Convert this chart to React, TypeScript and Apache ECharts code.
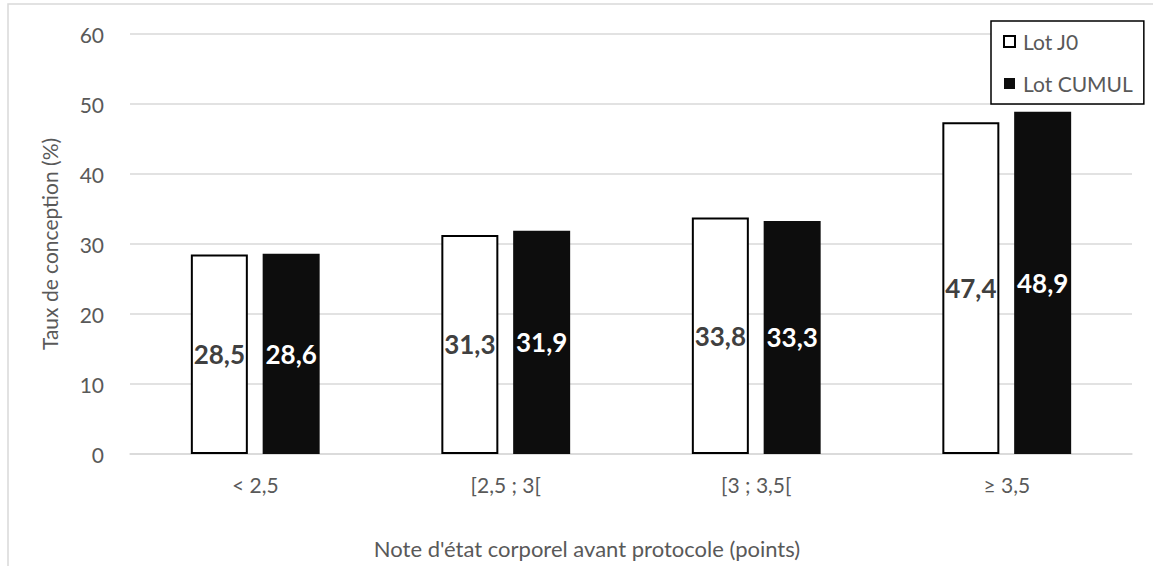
import React, { useEffect, useRef } from "react";
import * as echarts from "echarts";

// Note d'état corporel classes and conception rates (%)
const categories = ["< 2,5", "[2,5 ; 3[", "[3 ; 3,5[", "≥ 3,5"];
const lotJ0 = [28.5, 31.3, 33.8, 47.4];
const lotCumul = [28.6, 31.9, 33.3, 48.9];
const yTicks = { min: 0, max: 60, interval: 10 };

const FONT = "Lato";
const GREY = "#595959";

const fmt = (v: number) => v.toFixed(1).replace(".", ",");

export default function App() {
  const ref = useRef<HTMLDivElement>(null);

  useEffect(() => {
    if (!ref.current) return;
    const chart = echarts.init(ref.current, null, { renderer: "svg" });
    chart.setOption({
      animation: false,
      backgroundColor: "#ffffff",
      textStyle: { fontFamily: FONT },
      grid: { left: 130, right: 21, top: 34, bottom: 112 },
      legend: {
        orient: "vertical",
        left: 991,
        top: 21,
        backgroundColor: "#ffffff",
        borderColor: "#000000",
        borderWidth: 1.5,
        padding: [10, 11, 10, 12],
        itemGap: 21,
        itemWidth: 11,
        itemHeight: 11,
        icon: "rect",
        textStyle: {
          fontFamily: FONT,
          fontSize: 21,
          color: GREY,
          padding: [0, 0, 0, 3],
        },
        data: ["Lot J0", "Lot CUMUL"],
      },
      xAxis: {
        type: "category",
        data: categories,
        axisLine: { lineStyle: { color: "#d9d9d9", width: 1.5 } },
        axisTick: { show: false },
        axisLabel: {
          fontFamily: FONT,
          fontSize: 21,
          color: GREY,
          margin: 20,
        },
      },
      yAxis: {
        type: "value",
        min: yTicks.min,
        max: yTicks.max,
        interval: yTicks.interval,
        name: "Taux de conception (%)",
        nameLocation: "middle",
        nameGap: 70,
        nameTextStyle: { fontFamily: FONT, fontSize: 21, color: GREY },
        axisLine: { show: false },
        axisTick: { show: false },
        axisLabel: {
          fontFamily: FONT,
          fontSize: 21,
          color: GREY,
          margin: 26,
        },
        splitLine: { lineStyle: { color: "#d9d9d9", width: 1.5 } },
      },
      graphic: [
        {
          type: "rect",
          silent: true,
          shape: { x: 8, y: 4, width: 1300, height: 700 },
          style: { fill: "none", stroke: "#d9d9d9", lineWidth: 1.5 },
          z: -1,
        },
        {
          type: "text",
          x: 587,
          y: 548,
          style: {
            text: "Note d'état corporel avant protocole (points)",
            fontFamily: FONT,
            fontSize: 22,
            fill: GREY,
            textAlign: "center",
            textVerticalAlign: "middle",
          },
        },
      ],
      series: [
        {
          name: "Lot J0",
          type: "bar",
          data: lotJ0,
          barWidth: 57,
          barGap: "26%",
          itemStyle: { color: "#ffffff", borderColor: "#000000", borderWidth: 2 },
          label: {
            show: true,
            position: "inside",
            formatter: (p: any) => fmt(p.value),
            fontFamily: FONT,
            fontWeight: "bold",
            fontSize: 26,
            color: "#404040",
          },
        },
        {
          name: "Lot CUMUL",
          type: "bar",
          data: lotCumul,
          barWidth: 57,
          barGap: "26%",
          itemStyle: { color: "#0d0d0d" },
          label: {
            show: true,
            position: "inside",
            formatter: (p: any) => fmt(p.value),
            fontFamily: FONT,
            fontWeight: "bold",
            fontSize: 26,
            color: "#ffffff",
          },
        },
      ],
    });
    return () => chart.dispose();
  }, []);

  return (
    <div
      ref={ref}
      style={{ position: "absolute", left: 0, top: 0, width: 1153, height: 566 }}
    />
  );
}
